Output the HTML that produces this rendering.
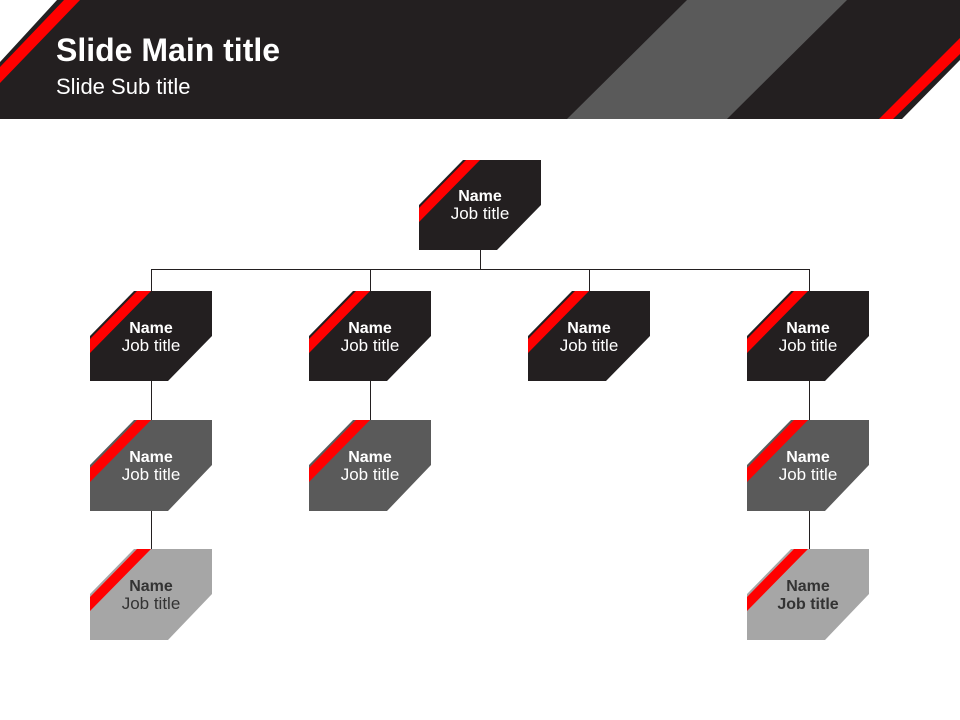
<!DOCTYPE html>
<html><head><meta charset="utf-8"><style>
html,body{margin:0;padding:0;background:#fff;}
svg{display:block;}
text{font-family:"Liberation Sans","DejaVu Sans",sans-serif;}
</style></head><body>
<svg width="960" height="720" viewBox="0 0 960 720" xmlns="http://www.w3.org/2000/svg">
<rect x="0" y="0" width="960" height="119" fill="#231f20"/>
<polygon points="687,0 847,0 727,119 567,119" fill="#5a5a5a"/>
<polygon points="0,0 57,0 0,62" fill="#fff"/>
<polygon points="64,0 80,0 0,83 0,67" fill="#ff0000"/>
<polygon points="960,38 960,54 893,119 879,119" fill="#ff0000"/>
<polygon points="960,60 960,119 902,119" fill="#fff"/>
<text x="56" y="61" font-size="32" font-weight="bold" fill="#fff">Slide Main title</text>
<text x="56" y="94" font-size="22" fill="#fff">Slide Sub title</text>
<g stroke="#231f20" stroke-width="1" fill="none">
<line x1="480.5" y1="250" x2="480.5" y2="269"/>
<line x1="151" y1="269.5" x2="810" y2="269.5"/>
<line x1="151.5" y1="269" x2="151.5" y2="549"/>
<line x1="370.5" y1="269" x2="370.5" y2="420"/>
<line x1="589.5" y1="269" x2="589.5" y2="291"/>
<line x1="809.5" y1="269" x2="809.5" y2="549"/>
</g>
<g transform="translate(419,160)"><polygon points="44,0 122,0 122,45 78,90 0,90 0,45" fill="#231f20"/><polygon points="47,0 61,0 0,62 0,48" fill="#ff0000"/><text x="61" y="41" font-size="16" font-weight="bold" fill="#fff" text-anchor="middle">Name</text><text x="61" y="59" font-size="17" fill="#fff" text-anchor="middle">Job title</text></g>

<g transform="translate(90,291)"><polygon points="44,0 122,0 122,45 78,90 0,90 0,45" fill="#231f20"/><polygon points="47,0 61,0 0,62 0,48" fill="#ff0000"/><text x="61" y="42" font-size="16" font-weight="bold" fill="#fff" text-anchor="middle">Name</text><text x="61" y="60" font-size="17" fill="#fff" text-anchor="middle">Job title</text></g>
<g transform="translate(309,291)"><polygon points="44,0 122,0 122,45 78,90 0,90 0,45" fill="#231f20"/><polygon points="47,0 61,0 0,62 0,48" fill="#ff0000"/><text x="61" y="42" font-size="16" font-weight="bold" fill="#fff" text-anchor="middle">Name</text><text x="61" y="60" font-size="17" fill="#fff" text-anchor="middle">Job title</text></g>
<g transform="translate(528,291)"><polygon points="44,0 122,0 122,45 78,90 0,90 0,45" fill="#231f20"/><polygon points="47,0 61,0 0,62 0,48" fill="#ff0000"/><text x="61" y="42" font-size="16" font-weight="bold" fill="#fff" text-anchor="middle">Name</text><text x="61" y="60" font-size="17" fill="#fff" text-anchor="middle">Job title</text></g>
<g transform="translate(747,291)"><polygon points="44,0 122,0 122,45 78,90 0,90 0,45" fill="#231f20"/><polygon points="47,0 61,0 0,62 0,48" fill="#ff0000"/><text x="61" y="42" font-size="16" font-weight="bold" fill="#fff" text-anchor="middle">Name</text><text x="61" y="60" font-size="17" fill="#fff" text-anchor="middle">Job title</text></g>

<g transform="translate(90,420)"><polygon points="44,0 122,0 122,45 78,91 0,91 0,45" fill="#5a5a5a"/><polygon points="47,0 61,0 0,62 0,48" fill="#ff0000"/><text x="61" y="42" font-size="16" font-weight="bold" fill="#fff" text-anchor="middle">Name</text><text x="61" y="60" font-size="17" fill="#fff" text-anchor="middle">Job title</text></g>
<g transform="translate(309,420)"><polygon points="44,0 122,0 122,45 78,91 0,91 0,45" fill="#5a5a5a"/><polygon points="47,0 61,0 0,62 0,48" fill="#ff0000"/><text x="61" y="42" font-size="16" font-weight="bold" fill="#fff" text-anchor="middle">Name</text><text x="61" y="60" font-size="17" fill="#fff" text-anchor="middle">Job title</text></g>
<g transform="translate(747,420)"><polygon points="44,0 122,0 122,45 78,91 0,91 0,45" fill="#5a5a5a"/><polygon points="47,0 61,0 0,62 0,48" fill="#ff0000"/><text x="61" y="42" font-size="16" font-weight="bold" fill="#fff" text-anchor="middle">Name</text><text x="61" y="60" font-size="17" fill="#fff" text-anchor="middle">Job title</text></g>

<g transform="translate(90,549)"><polygon points="44,0 122,0 122,45 78,91 0,91 0,45" fill="#a6a6a6"/><polygon points="47,0 61,0 0,62 0,48" fill="#ff0000"/><text x="61" y="42" font-size="16" font-weight="bold" fill="#333" text-anchor="middle">Name</text><text x="61" y="60" font-size="17" fill="#333" text-anchor="middle">Job title</text></g>
<g transform="translate(747,549)"><polygon points="44,0 122,0 122,45 78,91 0,91 0,45" fill="#a6a6a6"/><polygon points="47,0 61,0 0,62 0,48" fill="#ff0000"/><text x="61" y="42" font-size="16" font-weight="bold" fill="#333" text-anchor="middle">Name</text><text x="61" y="60" font-size="16" font-weight="bold" fill="#333" text-anchor="middle">Job title</text></g>
</svg>
</body></html>
